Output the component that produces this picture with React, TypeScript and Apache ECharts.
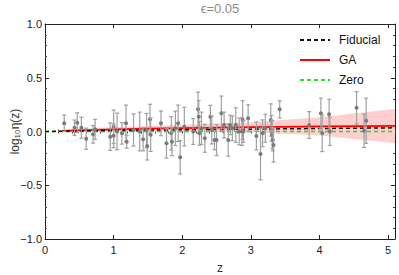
import React, { useEffect, useRef } from "react";
import * as echarts from "echarts";

// Data points: redshift, log10 eta, symmetric error
const pointZ = [0.28, 0.43, 0.47, 0.53, 0.6, 0.7, 0.73, 0.95, 1.0, 1.0, 1.05, 1.12, 1.18, 1.19, 1.29, 1.38, 1.43, 1.48, 1.49, 1.53, 1.54, 1.69, 1.77, 1.84, 1.85, 1.9, 1.94, 1.97, 2.03, 2.16, 2.23, 2.24, 2.25, 2.28, 2.33, 2.41, 2.43, 2.47, 2.5, 2.57, 2.61, 2.67, 2.7, 2.73, 2.78, 2.83, 2.87, 2.88, 2.89, 2.96, 3.08, 3.14, 3.17, 3.21, 3.29, 3.3, 3.31, 3.32, 3.33, 3.42, 3.85, 4.02, 4.04, 4.14, 4.15, 4.54, 4.65, 4.68];
const pointY = [0.076, 0.035, 0.082, 0.035, -0.067, -0.026, 0.02, -0.048, 0.045, -0.04, 0.0, -0.017, 0.076, -0.095, 0.014, 0.0, -0.073, 0.008, -0.135, 0.113, -0.03, 0.076, -0.11, -0.017, -0.095, 0.03, 0.076, -0.24, 0.045, 0.0, 0.206, 0.138, -0.017, 0.03, -0.063, 0.138, 0.014, -0.08, -0.08, 0.17, 0.06, -0.08, 0.06, 0.03, 0.06, 0.0, 0.0, 0.107, 0.0, 0.123, -0.042, -0.21, -0.017, 0.03, 0.107, 0.03, -0.03, -0.08, -0.125, 0.206, 0.06, 0.17, -0.017, 0.16, 0.0, 0.22, 0.007, 0.1];
const pointErr = [0.077, 0.072, 0.092, 0.098, 0.098, 0.082, 0.093, 0.128, 0.155, 0.11, 0.17, 0.1, 0.17, 0.06, 0.15, 0.18, 0.107, 0.16, 0.13, 0.14, 0.155, 0.115, 0.137, 0.155, 0.13, 0.16, 0.17, 0.155, 0.18, 0.12, 0.16, 0.15, 0.11, 0.15, 0.13, 0.105, 0.13, 0.09, 0.145, 0.16, 0.12, 0.15, 0.09, 0.115, 0.16, 0.125, 0.13, 0.18, 0.1, 0.125, 0.13, 0.24, 0.125, 0.13, 0.15, 0.12, 0.13, 0.1, 0.16, 0.08, 0.125, 0.14, 0.17, 0.14, 0.13, 0.15, 0.155, 0.21];

// Curves
const fidZ = [0, 1, 2, 3, 4, 5.1];
const fidY = [0, 0.01, 0.016, 0.022, 0.028, 0.034];
const gaZ = [0.25, 1, 2, 3, 4, 5.1];
const gaY = [0.006, 0.02, 0.032, 0.04, 0.047, 0.052];
const gaLo = [-0.004, 0.0, 0.002, -0.005, -0.038, -0.11];
const gaHi = [0.016, 0.04, 0.062, 0.085, 0.132, 0.21];
const zeroZ = [0, 5.1];
const zeroY = [0, 0];

const xTicks = [0, 1, 2, 3, 4, 5];
const yTicks = [-1, -0.5, 0, 0.5, 1];

const FONT = "'Liberation Sans', Arial, sans-serif";

export default function App() {
  const ref = useRef<HTMLDivElement>(null);
  useEffect(() => {
    document.body.style.margin = "0";
    const chart = echarts.init(ref.current!, undefined, { renderer: "svg" });
    const xMin = 0, xMax = 5.1;
    const baseX = {
      type: "value",
      min: xMin,
      max: xMax,
      splitLine: { show: false },
      axisLine: { show: false },
      axisLabel: { show: false },
    };
    const xAxes = [
      {
        ...baseX,
        position: "bottom",
        interval: 1,
        axisLine: { show: true, onZero: false, lineStyle: { color: "#222", width: 1 } },
        axisTick: { inside: true, length: 4, lineStyle: { color: "#222" } },
        axisLabel: {
          show: true,
          margin: 5,
          fontSize: 11,
          fontFamily: FONT,
          color: "#222",
          formatter: (v: number) => (xTicks.includes(Math.round(v * 1000) / 1000) ? String(v) : ""),
        },
        name: "z",
        nameLocation: "middle",
        nameGap: 23,
        nameMoveOverlap: false,
        nameTextStyle: { fontSize: 12, fontFamily: FONT, color: "#333" },
      },
      { ...baseX, position: "bottom", interval: 0.2, axisTick: { inside: true, length: 2, lineStyle: { color: "#444" } } },
      {
        ...baseX,
        position: "top",
        interval: 1,
        axisLine: { show: true, onZero: false, lineStyle: { color: "#222", width: 1 } },
        axisTick: { inside: true, length: 4, lineStyle: { color: "#222" } },
      },
      { ...baseX, position: "top", interval: 0.2, axisTick: { inside: true, length: 2, lineStyle: { color: "#444" } } },
    ];
    const baseY = {
      type: "value",
      min: -1,
      max: 1,
      interval: 0.5,
      splitLine: { show: false },
      axisLine: { show: true, onZero: false, lineStyle: { color: "#222", width: 1 } },
      axisTick: { inside: true, length: 4, lineStyle: { color: "#222" } },
      minorTick: { show: true, splitNumber: 5, length: 2, lineStyle: { color: "#444" } },
    };
    const yAxes = [
      {
        ...baseY,
        position: "left",
        axisLabel: {
          margin: 3,
          fontSize: 11,
          fontFamily: FONT,
          color: "#222",
          formatter: (v: number) => (yTicks.includes(v) ? v.toFixed(1).replace("-", "\u2212") : ""),
        },
        name: "log\u2081\u2080\u03b7(z)",
        nameLocation: "middle",
        nameRotate: 90,
        nameGap: 24,
        nameMoveOverlap: false,
        nameTextStyle: { fontSize: 12, fontFamily: FONT, color: "#333" },
      },
      { ...baseY, position: "right", axisLabel: { show: false } },
    ];

    const errData = pointZ.map((z, i) => [z, pointY[i], pointErr[i]]);

    chart.setOption({
      animation: false,
      title: {
        text: "\u03f5=0.05",
        left: 220,
        textAlign: "center",
        top: 2,
        padding: 0,
        textStyle: { fontSize: 13, fontWeight: "normal", fontFamily: FONT, color: "#8a8a8a" },
      },
      grid: { left: 45, right: 4, top: 24, bottom: 36, outerBoundsMode: "none", containLabel: false },
      xAxis: xAxes,
      yAxis: yAxes,
      legend: {
        orient: "vertical",
        left: 294,
        top: 29,
        itemWidth: 30,
        itemHeight: 14,
        itemGap: 8,
        itemStyle: { opacity: 0 },
        textStyle: { fontSize: 12, fontFamily: FONT, color: "#111", padding: [0, 0, 0, 4] },
        data: ["Fiducial", "GA", "Zero"],
      },
      series: [
        {
          type: "custom",
          name: "band",
          silent: true,
          z: 1,
          data: [[gaZ[0], gaY[0]]],
          encode: { x: 0, y: 1 },
          renderItem: (params: any, api: any) => {
            const pts: number[][] = [];
            for (let i = 0; i < gaZ.length; i++) pts.push(api.coord([gaZ[i], gaHi[i]]));
            for (let i = gaZ.length - 1; i >= 0; i--) pts.push(api.coord([gaZ[i], gaLo[i]]));
            return { type: "polygon", shape: { points: pts }, style: { fill: "#ffcfcf", stroke: "none" } };
          },
        },
        {
          type: "line",
          name: "Zero",
          z: 2,
          symbol: "none",
          data: zeroZ.map((z, i) => [z, zeroY[i]]),
          lineStyle: { color: "#22dd22", width: 1.5, type: [4, 3] },
          itemStyle: { color: "#22dd22" },
        },
        {
          type: "line",
          name: "GA",
          z: 3,
          symbol: "none",
          smooth: true,
          data: gaZ.map((z, i) => [z, gaY[i]]),
          lineStyle: { color: "#ff0000", width: 1.8 },
          itemStyle: { color: "#ff0000" },
        },
        {
          type: "line",
          name: "Fiducial",
          z: 4,
          symbol: "none",
          data: fidZ.map((z, i) => [z, fidY[i]]),
          lineStyle: { color: "#111", width: 1.5, type: [4, 3] },
          itemStyle: { color: "#111" },
        },
        {
          type: "custom",
          name: "data",
          z: 5,
          data: errData,
          encode: { x: 0, y: 1 },
          renderItem: (params: any, api: any) => {
            const x = api.value(0), y = api.value(1), e = api.value(2);
            const t = api.coord([x, y + e]);
            const b = api.coord([x, y - e]);
            const c = api.coord([x, y]);
            const w = 2;
            const st = { stroke: "#a0a0a0", lineWidth: 1.2 };
            return {
              type: "group",
              children: [
                { type: "line", shape: { x1: t[0], y1: t[1], x2: b[0], y2: b[1] }, style: st },
                { type: "line", shape: { x1: t[0] - w, y1: t[1], x2: t[0] + w, y2: t[1] }, style: st },
                { type: "line", shape: { x1: b[0] - w, y1: b[1], x2: b[0] + w, y2: b[1] }, style: st },
                { type: "circle", shape: { cx: c[0], cy: c[1], r: 2 }, style: { fill: "#7a7a7a" } },
              ],
            };
          },
        },
      ],
    });
    return () => chart.dispose();
  }, []);
  return <div ref={ref} style={{ width: 399, height: 275, position: "absolute", left: 0, top: 0 }} />;
}
